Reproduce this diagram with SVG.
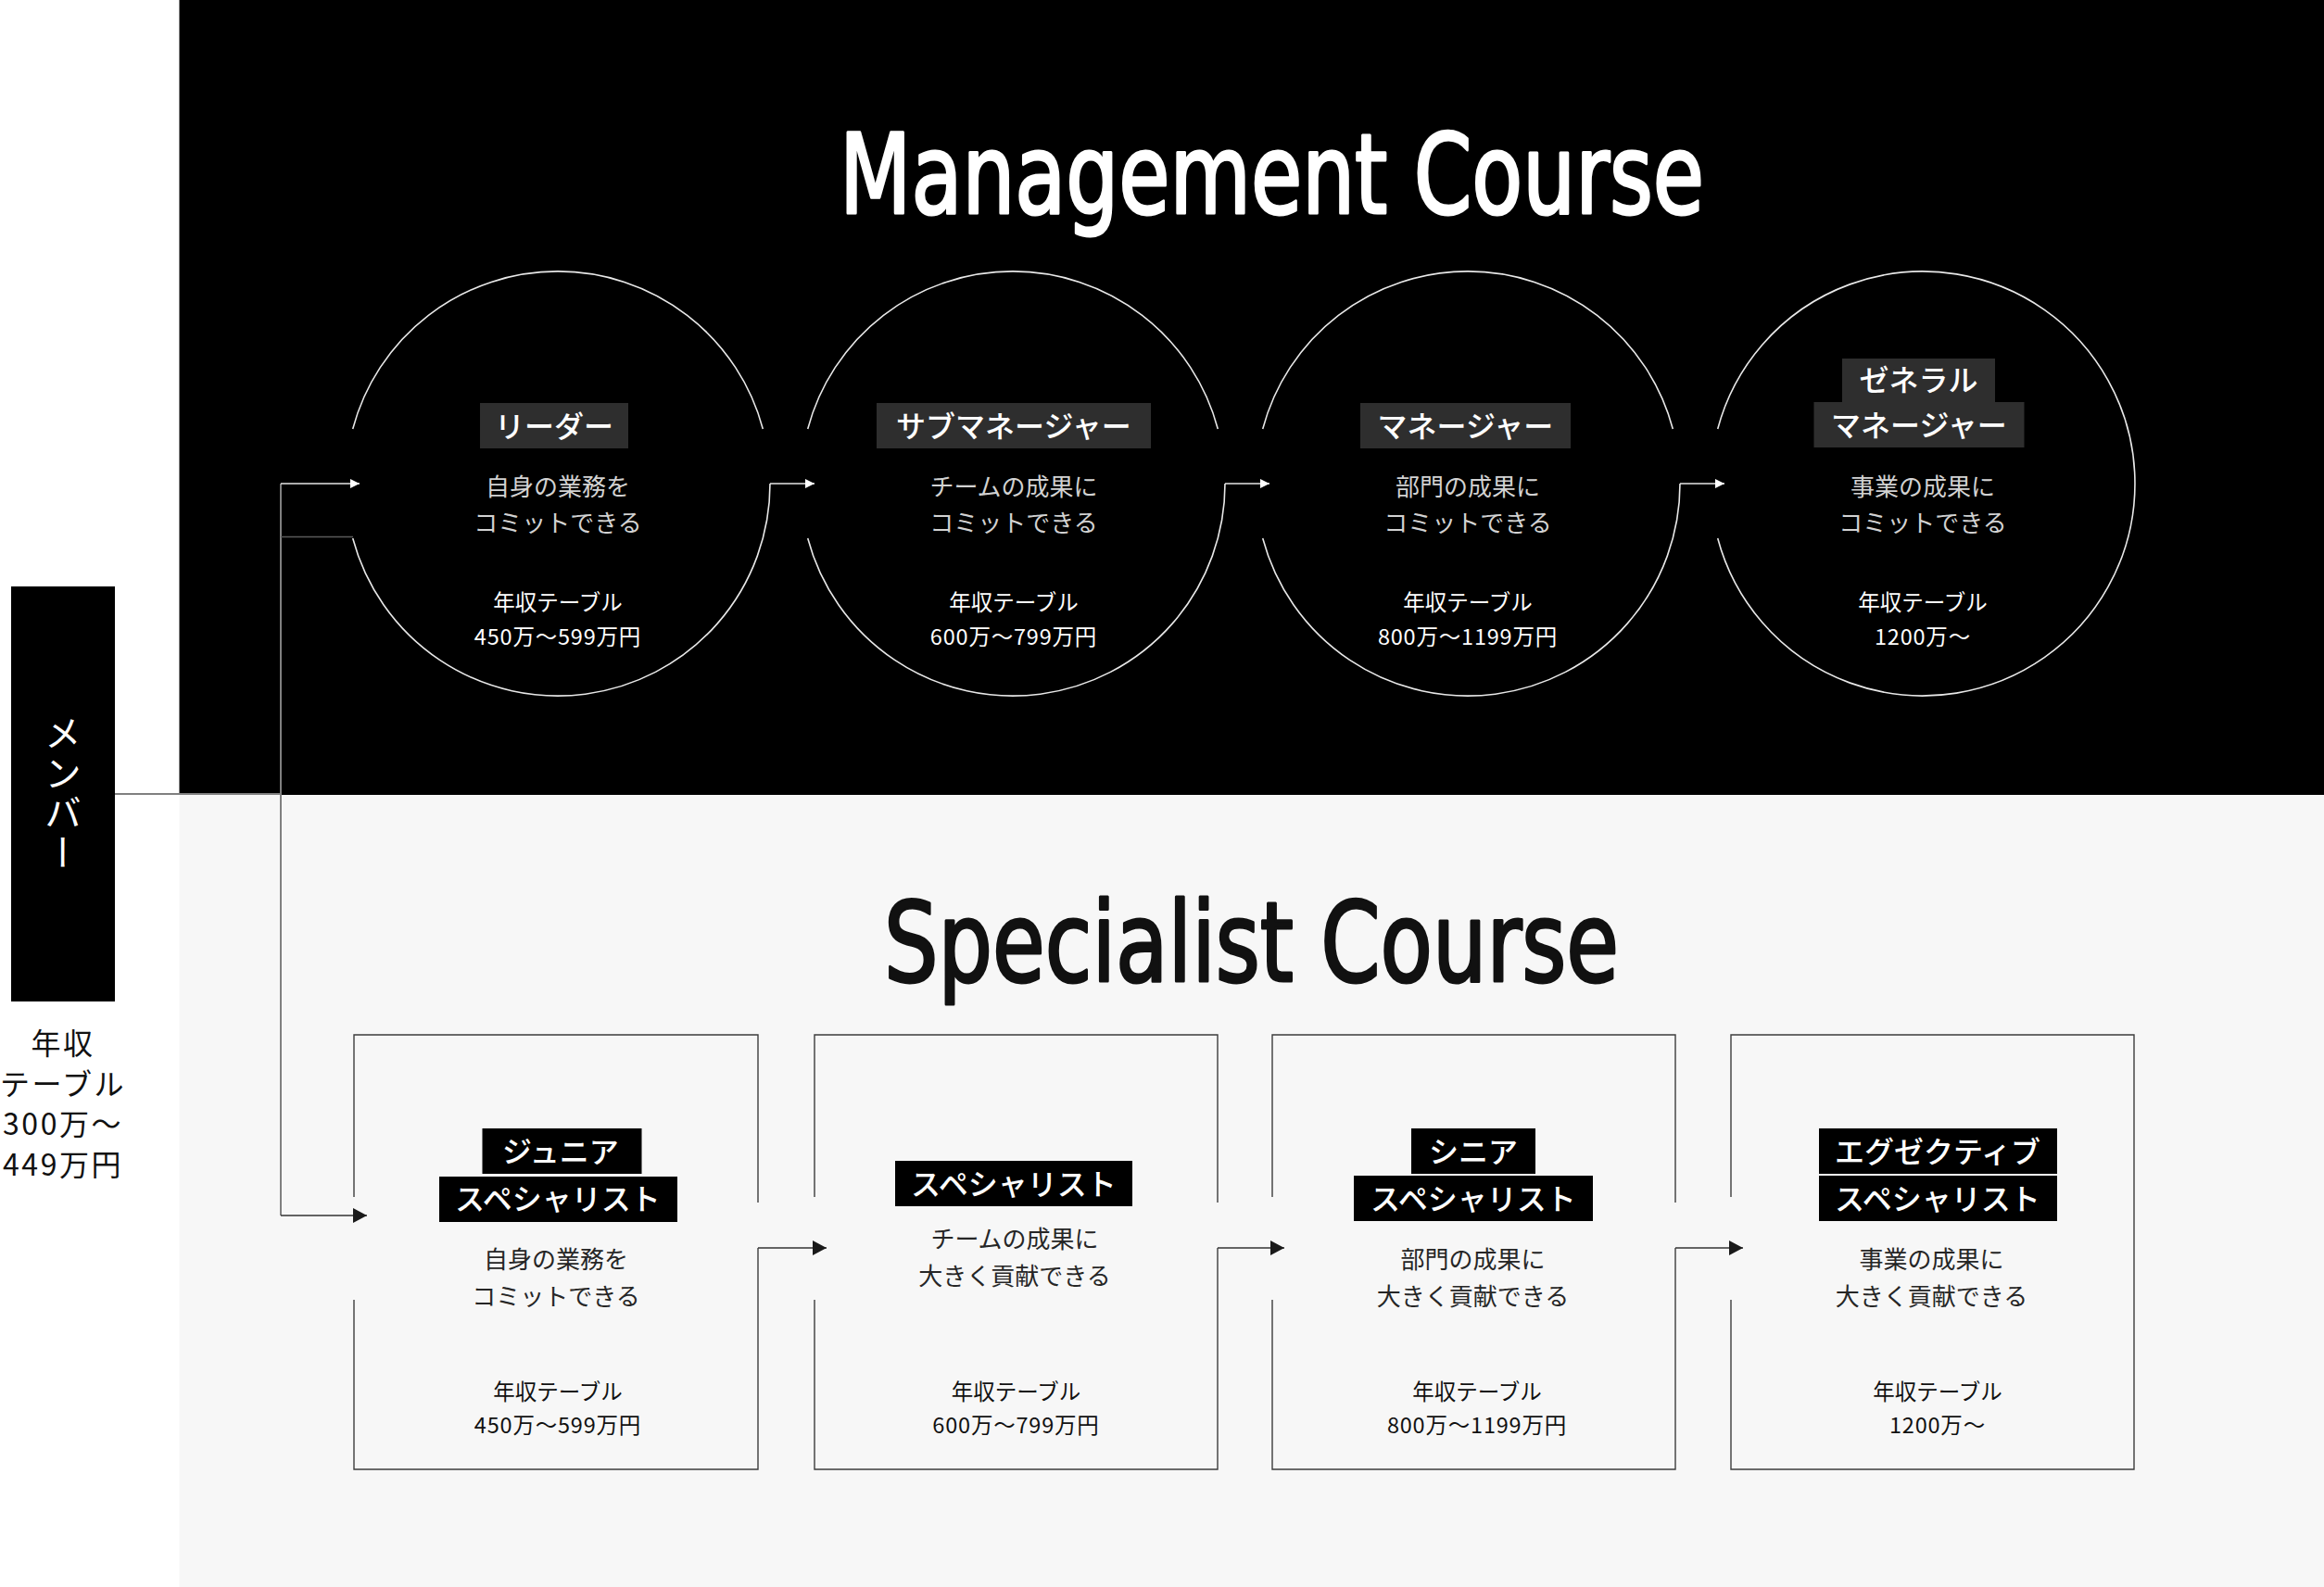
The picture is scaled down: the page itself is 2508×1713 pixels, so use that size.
<svg xmlns="http://www.w3.org/2000/svg" width="2508" height="1713" viewBox="0 0 2508 1713">
<defs>
<style>
.jp{font-family:"Noto Sans CJK JP","Noto Sans CJK SC",sans-serif;}
.title{font-family:"Liberation Sans Narrow","DejaVu Sans Condensed","Liberation Sans",sans-serif;font-size:120px;font-weight:500;stroke-width:3px;stroke-linejoin:round;}
.lbl{font-size:32px;fill:#fff;font-weight:500;text-anchor:middle;}
.cdesc{font-size:26px;fill:#d2d2d2;text-anchor:middle;}
.csal{font-size:23.5px;fill:#fff;text-anchor:middle;}
.sdesc{font-size:26px;fill:#262626;text-anchor:middle;}
.ssal{font-size:23.5px;fill:#111;text-anchor:middle;}
.num{letter-spacing:0.8px;}
.ring{fill:none;stroke:#e8e8e8;stroke-width:1.6;}
.box{fill:none;stroke:#3c3c3c;stroke-width:1.4;}
.clbl{fill:#2e2e2e;}
.slbl{fill:#000;}
.cw{stroke:#e6e6e6;stroke-width:1.6;fill:none;}
.cd{stroke:#333;stroke-width:1.5;fill:none;}
.cg{stroke:#808080;stroke-width:2;fill:none;}
.cg2{stroke:#5a5a5a;stroke-width:1.5;fill:none;}
.side{font-size:32px;fill:#111;text-anchor:middle;letter-spacing:2.5px;}
</style>
<marker id="ahW" markerUnits="userSpaceOnUse" viewBox="0 0 10 10" refX="10" refY="5" markerWidth="10" markerHeight="10" orient="auto"><path d="M0,0 L10,5 L0,10 z" fill="#fff"/></marker>
<marker id="ahD" markerUnits="userSpaceOnUse" viewBox="0 0 15 16" refX="15" refY="8" markerWidth="15" markerHeight="16" orient="auto"><path d="M0,0 L15,8 L0,16 z" fill="#1a1a1a"/></marker>
</defs>

<rect x="0" y="0" width="2508" height="1713" fill="#fff"/>
<rect id="management-bg" x="193.5" y="0" width="2314.5" height="858" fill="#000"/>
<rect id="specialist-bg" x="193.5" y="858" width="2314.5" height="855" fill="#f7f7f7"/>

<text id="management-title" class="title" x="906" y="230" fill="#fff" stroke="#fff" textLength="933" lengthAdjust="spacingAndGlyphs">Management Course</text>
<text id="specialist-title" class="title" x="954" y="1059" fill="#111" stroke="#111" textLength="793" lengthAdjust="spacingAndGlyphs">Specialist Course</text>

<g id="member">
<rect x="12" y="633" width="112" height="448" fill="#000"/>
<text class="jp" x="68" y="857" fill="#fff" font-size="40" text-anchor="middle" style="writing-mode:vertical-rl;letter-spacing:3px;">メンバー</text>
<text class="jp side" x="68" y="1138">年収</text>
<text class="jp side" x="68" y="1182">テーブル</text>
<text class="jp side" x="68" y="1225">300万〜</text>
<text class="jp side" x="68" y="1269">449万円</text>
</g>

<g id="connectors">
<path class="cg" d="M124,857 H303"/>
<path class="cg" d="M303,522 V1312"/>
<path class="cg2" d="M303,579.5 H381"/>
<path class="cw" d="M303,522 H388" marker-end="url(#ahW)"/>
<path class="cd" d="M303,1312 H396" marker-end="url(#ahD)"/>
<path class="cw" d="M831,522 H879" marker-end="url(#ahW)"/>
<path class="cw" d="M1322,522 H1370" marker-end="url(#ahW)"/>
<path class="cw" d="M1813,522 H1861" marker-end="url(#ahW)"/>
<path class="cd" d="M818,1347 H892" marker-end="url(#ahD)"/>
<path class="cd" d="M1314,1347 H1386" marker-end="url(#ahD)"/>
<path class="cd" d="M1808,1347 H1881" marker-end="url(#ahD)"/>
</g>

<g id="leader">
<path class="ring" d="M380.7,463 A229,229 0 0 1 823.3,463 M831,522 A229,229 0 0 1 380.7,581"/>
<rect class="clbl" x="518" y="435" width="160" height="49"/>
<text class="jp lbl" x="598" y="471.5">リーダー</text>
<text class="jp cdesc" x="602" y="534.5">自身の業務を</text>
<text class="jp cdesc" x="602" y="574">コミットできる</text>
<text class="jp csal" x="602" y="659">年収テーブル</text>
<text class="jp csal num" x="602" y="696">450万〜599万円</text>
</g>

<g id="sub-manager">
<path class="ring" d="M871.7,463 A229,229 0 0 1 1314.3,463 M1322,522 A229,229 0 0 1 871.7,581"/>
<rect class="clbl" x="946" y="435" width="296" height="49"/>
<text class="jp lbl" x="1094" y="471.5">サブマネージャー</text>
<text class="jp cdesc" x="1094" y="534.5">チームの成果に</text>
<text class="jp cdesc" x="1094" y="574">コミットできる</text>
<text class="jp csal" x="1094" y="659">年収テーブル</text>
<text class="jp csal num" x="1094" y="696">600万〜799万円</text>
</g>

<g id="manager">
<path class="ring" d="M1362.7,463 A229,229 0 0 1 1805.3,463 M1813,522 A229,229 0 0 1 1362.7,581"/>
<rect class="clbl" x="1468" y="435" width="227" height="49"/>
<text class="jp lbl" x="1581.5" y="471.5">マネージャー</text>
<text class="jp cdesc" x="1584" y="534.5">部門の成果に</text>
<text class="jp cdesc" x="1584" y="574">コミットできる</text>
<text class="jp csal" x="1584" y="659">年収テーブル</text>
<text class="jp csal num" x="1584" y="696">800万〜1199万円</text>
</g>

<g id="general-manager">
<path class="ring" d="M1853.7,581 A229,229 0 1 0 1853.7,463"/>
<rect class="clbl" x="1988" y="387" width="165" height="47"/>
<rect class="clbl" x="1957.5" y="434" width="227" height="49"/>
<text class="jp lbl" x="2070.5" y="422">ゼネラル</text>
<text class="jp lbl" x="2071" y="470.5">マネージャー</text>
<text class="jp cdesc" x="2075" y="534.5">事業の成果に</text>
<text class="jp cdesc" x="2075" y="574">コミットできる</text>
<text class="jp csal" x="2075" y="659">年収テーブル</text>
<text class="jp csal num" x="2075" y="696">1200万〜</text>
</g>

<g id="junior-specialist">
<path class="box" d="M382,1292 V1117 H818 V1298 M818,1347 V1586 H382 V1403"/>
<rect class="slbl" x="520.5" y="1218" width="172" height="49"/>
<rect class="slbl" x="474" y="1270" width="257" height="49"/>
<text class="jp lbl" x="605" y="1254.5">ジュニア</text>
<text class="jp lbl" x="602" y="1306">スペシャリスト</text>
<text class="jp sdesc" x="600" y="1368.5">自身の業務を</text>
<text class="jp sdesc" x="600" y="1408.5">コミットできる</text>
<text class="jp ssal" x="602" y="1510.5">年収テーブル</text>
<text class="jp ssal num" x="602" y="1546.5">450万〜599万円</text>
</g>

<g id="specialist">
<path class="box" d="M879,1292 V1117 H1314 V1298 M1314,1347 V1586 H879 V1403"/>
<rect class="slbl" x="966" y="1253" width="256" height="49"/>
<text class="jp lbl" x="1094" y="1289.5">スペシャリスト</text>
<text class="jp sdesc" x="1095" y="1346.5">チームの成果に</text>
<text class="jp sdesc" x="1095" y="1386.5">大きく貢献できる</text>
<text class="jp ssal" x="1096.5" y="1510.5">年収テーブル</text>
<text class="jp ssal num" x="1096.5" y="1546.5">600万〜799万円</text>
</g>

<g id="senior-specialist">
<path class="box" d="M1373,1292 V1117 H1808 V1298 M1808,1347 V1586 H1373 V1403"/>
<rect class="slbl" x="1523" y="1218" width="134" height="49"/>
<rect class="slbl" x="1461" y="1269" width="258" height="49"/>
<text class="jp lbl" x="1590" y="1254.5">シニア</text>
<text class="jp lbl" x="1590" y="1305.5">スペシャリスト</text>
<text class="jp sdesc" x="1589.5" y="1368.5">部門の成果に</text>
<text class="jp sdesc" x="1589.5" y="1408.5">大きく貢献できる</text>
<text class="jp ssal" x="1594" y="1510.5">年収テーブル</text>
<text class="jp ssal num" x="1594" y="1546.5">800万〜1199万円</text>
</g>

<g id="executive-specialist">
<path class="box" d="M1868,1292 V1117 H2303 V1586 H1868 V1403"/>
<rect class="slbl" x="1963" y="1218" width="257" height="49"/>
<rect class="slbl" x="1963" y="1269" width="257" height="49"/>
<text class="jp lbl" x="2091" y="1254.5">エグゼクティブ</text>
<text class="jp lbl" x="2091" y="1305.5">スペシャリスト</text>
<text class="jp sdesc" x="2084.5" y="1368.5">事業の成果に</text>
<text class="jp sdesc" x="2084.5" y="1408.5">大きく貢献できる</text>
<text class="jp ssal" x="2091" y="1510.5">年収テーブル</text>
<text class="jp ssal num" x="2091" y="1546.5">1200万〜</text>
</g>
</svg>
